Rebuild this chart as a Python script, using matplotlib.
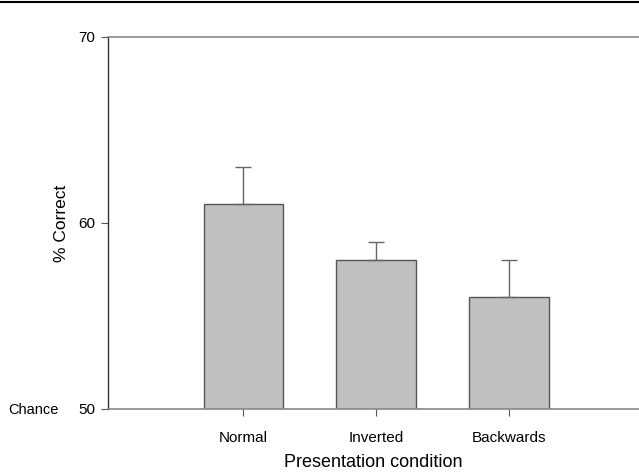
import matplotlib
matplotlib.use("Agg")
import matplotlib.pyplot as plt
from matplotlib.lines import Line2D

categories = ["Normal", "Inverted", "Backwards"]
values = [61, 58, 56]
errors = [2, 1, 2]
yticks = [50, 60, 70]

plt.rcParams['font.family'] = ['Liberation Sans', 'DejaVu Sans']

fig = plt.figure(figsize=(6.39, 4.72), dpi=100)
ax = fig.add_axes([108/639, 63/472, 1 - 108/639, (409-37)/472])

x = list(range(len(categories)))
ax.bar(x, values, width=0.6, color="#c0c0c0", edgecolor="#555555", linewidth=1.0, zorder=2)
ax.errorbar(x, values, yerr=[[0]*len(errors), errors], fmt="none", ecolor="#666666",
            elinewidth=1.0, capsize=6, capthick=1.0, zorder=3)

ax.set_ylim(50, 70)
ax.set_xlim(-1.02, 2.98)
ax.set_yticks(yticks)
ax.set_yticklabels([str(t) for t in yticks], fontsize=11)
ax.set_xticks(x)
ax.set_xticklabels(categories, fontsize=11)
ax.tick_params(axis="both", direction="out", length=5, color="#555555", width=0.8)
ax.tick_params(axis="x", pad=10.5)
ax.tick_params(axis="y", pad=4)

ax.spines["right"].set_visible(False)
ax.spines["left"].set_color("#333333")
ax.spines["left"].set_linewidth(1.0)
ax.spines["top"].set_color("#888888")
ax.spines["top"].set_linewidth(1.2)
ax.spines["bottom"].set_color("#888888")
ax.spines["bottom"].set_linewidth(1.2)

ax.set_ylabel("% Correct", fontsize=12.5, labelpad=7)
ax.set_xlabel("Presentation condition", fontsize=13, labelpad=7)

fig.text(8/639, 1 - 410/472, "Chance", fontsize=10.5, va="center", ha="left")
fig.add_artist(Line2D([0, 1], [1 - 1.5/472, 1 - 1.5/472], color="black", linewidth=1.5,
                      transform=fig.transFigure))

fig.savefig("out.png", dpi=100)
